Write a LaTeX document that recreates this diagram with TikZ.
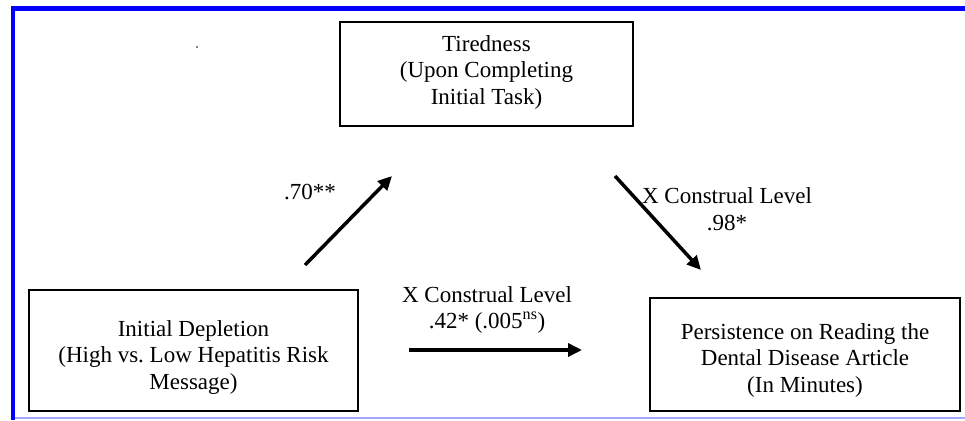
\documentclass[tikz,border=0pt]{standalone}
\usepackage{fontspec}
\setmainfont{Liberation Serif}
\usetikzlibrary{arrows.meta}
\begin{document}
\begin{tikzpicture}[x=1pt,y=-1pt,
  box/.style={draw=black, line width=2pt, inner sep=0pt},
  txt/.style={font=\fontsize{23}{26.5}\selectfont, align=center, inner sep=0pt},
  arr/.style={line width=3.5pt, -{Triangle[length=14pt,width=13pt]}}]
\useasboundingbox (0,0) rectangle (965,420);
\fill[white] (0,0) rectangle (965,420);
% frame
\fill[blue] (11,6) rectangle (965,11);
\fill[blue] (11,6) rectangle (15,420);
\fill[blue!35] (15,417) rectangle (965,419);
% stray dot
\fill (197,47) circle (0.8pt);
% boxes
\node[box, minimum width=293pt, minimum height=104pt] (tired) at (486.5,74) {};
\node[box, minimum width=329pt, minimum height=121pt] (dep) at (193.5,350.5) {};
\node[box, minimum width=310pt, minimum height=113pt] (pers) at (805,354.5) {};
% box texts
\node[txt] (tiredtxt) at (486.5,72) {Tiredness\\(Upon Completing\\Initial Task)};
\node[txt] (deptxt) at (193.5,357) {Initial Depletion\\(High vs.\ Low Hepatitis Risk\\Message)};
\node[txt] (perstxt) at (805,360) {Persistence on Reading the\\Dental Disease Article\\(In Minutes)};
% labels
\node[txt] (l70) at (310,192) {.70**};
\node[txt] (l98) at (727,209) {X Construal Level\\.98*};
\node[txt] (l42) at (487,310) {X Construal Level\\.42* (.005\textsuperscript{ns})};
% arrows
\coordinate (a1s) at (305,265);
\coordinate (a1e) at (392,176);
\coordinate (a2s) at (615,176);
\coordinate (a2e) at (701,270);
\coordinate (a3s) at (409,350);
\coordinate (a3e) at (582,350);
\draw[arr] (a1s) -- (a1e);
\draw[arr] (a2s) -- (a2e);
\draw[arr] (a3s) -- (a3e);
\end{tikzpicture}
\end{document}
